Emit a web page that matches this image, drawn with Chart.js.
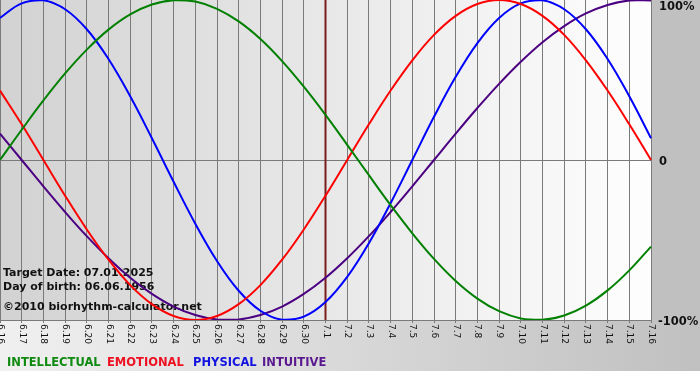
<!DOCTYPE html>
<html>
<head>
<meta charset="utf-8">
<script src="https://cdn.jsdelivr.net/npm/chart.js@4"></script>
<style>
html,body{margin:0;padding:0;background:#fff;}
canvas{display:block;}
</style>
</head>
<body>
<canvas id="c" width="700" height="380" style="width:700px;height:380px"></canvas>
<script>
const labels = ['6.16','6.17','6.18','6.19','6.20','6.21','6.22','6.23','6.24','6.25','6.26','6.27','6.28','6.29','6.30',
  '7.1','7.2','7.3','7.4','7.5','7.6','7.7','7.8','7.9','7.10','7.11','7.12','7.13','7.14','7.15','7.16'];
const intellectual = [0,18.9,37.2,54.1,69.0,81.5,91.0,97.2,99.9,99.0,94.5,86.6,75.6,61.8,45.8,
  28.2,9.5,-9.5,-28.2,-45.8,-61.8,-75.6,-86.6,-94.5,-99.0,-99.9,-97.2,-91.0,-81.5,-69.0,-54.1];
const emotional = [43.4,22.3,0,-22.3,-43.4,-62.3,-78.2,-90.1,-97.5,-100,-97.5,-90.1,-78.2,-62.3,-43.4,
  -22.3,0,22.3,43.4,62.3,78.2,90.1,97.5,100,97.5,90.1,78.2,62.3,43.4,22.3,0];
const physical = [88.8,97.9,99.8,94.2,81.7,63.1,39.8,13.6,-13.6,-39.8,-63.1,-81.7,-94.2,-99.8,-97.9,
  -88.8,-73.1,-52.0,-27.0,0,27.0,52.0,73.1,88.8,97.9,99.8,94.2,81.7,63.1,39.8,13.6];
const intuitive = [16.5,0,-16.5,-32.5,-47.6,-61.4,-73.6,-83.7,-91.6,-96.9,-99.7,-99.7,-96.9,-91.6,-83.7,
  -73.6,-61.4,-47.6,-32.5,-16.5,0,16.5,32.5,47.6,61.4,73.6,83.7,91.6,96.9,99.7,99.7];
const yTickLabels = [{v:100,t:'100%'},{v:0,t:'0'},{v:-100,t:'-100%'}];
const targetLabel = '7.1';
const infoLines = ['Target Date: 07.01.2025','Day of birth: 06.06.1956','\u00A92010 biorhythm-calculator.net'];
const legendItems = [
  {t:'INTELLECTUAL',c:'#108a10'},
  {t:'EMOTIONAL',c:'#ee1122'},
  {t:'PHYSICAL',c:'#1212e0'},
  {t:'INTUITIVE',c:'#5a1890'}
];

const bgPlugin = {
  id:'bg',
  beforeDraw(chart){
    const ctx = chart.ctx, a = chart.chartArea, W = chart.width;
    ctx.save();
    ctx.fillStyle = '#ffffff';
    ctx.fillRect(0,0,W,chart.height);
    let g = ctx.createLinearGradient(0,0,W,0);
    g.addColorStop(0,'#f0f0f0'); g.addColorStop(1,'#c0c0c0');
    ctx.fillStyle = g;
    ctx.fillRect(0,a.bottom,W,371-a.bottom);
    ctx.fillStyle = '#c0c0c0';
    ctx.fillRect(a.right,0,W-a.right,a.bottom);
    g = ctx.createLinearGradient(a.left,0,a.right,0);
    g.addColorStop(0,'#d2d2d2'); g.addColorStop(1,'#fefefe');
    ctx.fillStyle = g;
    ctx.fillRect(a.left,a.top,a.right-a.left,a.bottom-a.top);
    ctx.restore();
  },
  beforeDatasetsDraw(chart){
    const ctx = chart.ctx, a = chart.chartArea, xs = chart.scales.x;
    ctx.save();
    const xm = Math.round(xs.getPixelForValue(labels.indexOf(targetLabel)));
    ctx.strokeStyle = '#7a1c1c';
    ctx.lineWidth = 2;
    ctx.beginPath(); ctx.moveTo(xm-0.5,a.top); ctx.lineTo(xm-0.5,a.bottom); ctx.stroke();
    ctx.fillStyle = '#111';
    ctx.font = 'bold 11px "DejaVu Sans"';
    ctx.textAlign = 'left'; ctx.textBaseline = 'alphabetic';
    ctx.fillText(infoLines[0],3,276);
    ctx.fillText(infoLines[1],3,290);
    ctx.fillText(infoLines[2],3,310);
    ctx.restore();
  },
  afterDraw(chart){
    const ctx = chart.ctx, a = chart.chartArea, xs = chart.scales.x, ys = chart.scales.y;
    ctx.save();
    ctx.fillStyle = '#111';
    ctx.font = '9px "DejaVu Sans"';
    ctx.textAlign = 'left'; ctx.textBaseline = 'middle';
    labels.forEach((l,i)=>{
      const x = xs.getPixelForValue(i);
      ctx.save();
      ctx.translate(Math.round(x)+0.5, a.bottom+4);
      ctx.rotate(Math.PI/2);
      ctx.fillText(l,0,0);
      ctx.restore();
    });
    ctx.font = 'bold 11.5px "DejaVu Sans"';
    ctx.textBaseline = 'middle';
    yTickLabels.forEach(o=>{
      let y = ys.getPixelForValue(o.v) + 2;
      if (y < 7) y = 7;
      ctx.fillText(o.t, o.t.charAt(0)==='-' ? a.right+7 : a.right+8, y);
    });
    ctx.textBaseline = 'alphabetic';
    ctx.font = 'bold 11.5px "DejaVu Sans"';
    const lx = [7,107,193,262];
    legendItems.forEach((it,i)=>{
      ctx.fillStyle = it.c;
      ctx.fillText(it.t,lx[i],366);
    });
    ctx.restore();
  }
};

new Chart(document.getElementById('c'),{
  type:'line',
  data:{
    labels: labels,
    datasets:[
      {label:'INTELLECTUAL',data:intellectual,borderColor:'#008000'},
      {label:'EMOTIONAL',data:emotional,borderColor:'#ff0000'},
      {label:'PHYSICAL',data:physical,borderColor:'#0000ff'},
      {label:'INTUITIVE',data:intuitive,borderColor:'#4b0082'}
    ]
  },
  options:{
    responsive:false,
    animation:false,
    devicePixelRatio:1,
    layout:{padding:0},
    elements:{
      line:{borderWidth:2,tension:0.4,fill:false},
      point:{radius:0,hoverRadius:0}
    },
    plugins:{legend:{display:false},tooltip:{enabled:false}},
    events:[],
    scales:{
      x:{
        offset:false,
        ticks:{display:false},
        grid:{color:'#7a7a7a',lineWidth:1,drawTicks:true,tickLength:3},
        border:{display:true,color:'#7a7a7a',width:1},
        afterFit(s){ s.height = 60; }
      },
      y:{
        position:'right',
        min:-100,max:100,
        ticks:{display:false,stepSize:100},
        grid:{color:(c)=> (c.tick && c.tick.value===0) ? '#7a7a7a' : 'rgba(0,0,0,0)',drawTicks:false},
        border:{display:false},
        afterFit(s){ s.width = 49; }
      }
    }
  },
  plugins:[bgPlugin]
});
</script>
</body>
</html>
